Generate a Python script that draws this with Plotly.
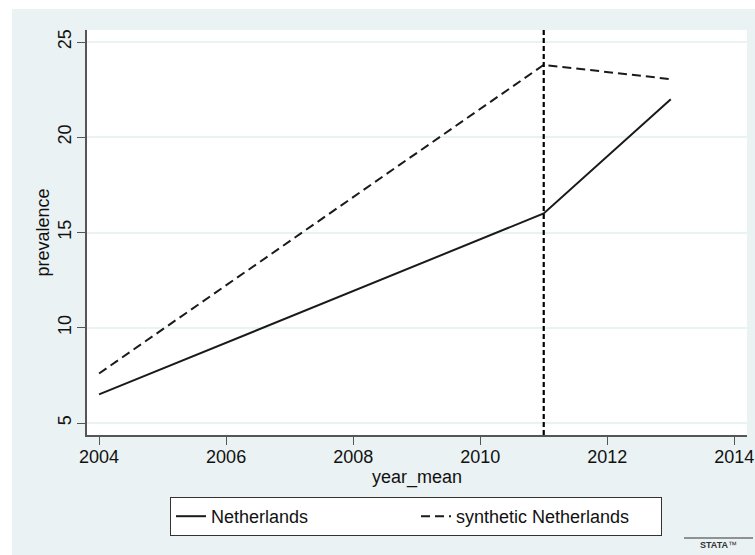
import plotly.graph_objects as go

years = [2004, 2011, 2013]
netherlands = [6.5, 16.0, 22.0]
synthetic = [7.6, 23.8, 23.05]
treat_year = 2011
x_ticks = [2004, 2006, 2008, 2010, 2012, 2014]
y_ticks = [5, 10, 15, 20, 25]

W, H = 755, 555
L, R, T, B = 87, 747, 30, 435
pw, ph = R - L, B - T


def px_x(p):
    return (p - L) / pw


def px_y(p):
    return (B - p) / ph


BG = "#EAF2F3"
FONT = "Liberation Sans, Arial, sans-serif"

fig = go.Figure()
fig.add_trace(go.Scatter(x=years, y=netherlands, mode="lines", name="Netherlands",
                         line=dict(color="#1a1a1a", width=2)))
fig.add_trace(go.Scatter(x=years, y=synthetic, mode="lines", name="synthetic Netherlands",
                         line=dict(color="#1a1a1a", width=2, dash="9px,5px")))

fig.add_shape(type="line", xref="x", yref="paper", x0=treat_year, x1=treat_year, y0=0, y1=1,
              line=dict(color="#000000", width=2.2, dash="5px,3px"))

# white outer margin (top / left)
fig.add_shape(type="rect", xref="paper", yref="paper", x0=px_x(-2), x1=px_x(12), y0=px_y(H + 2), y1=px_y(-2),
              fillcolor="white", line=dict(width=0), layer="above")
fig.add_shape(type="rect", xref="paper", yref="paper", x0=px_x(-2), x1=px_x(W + 2), y0=px_y(9), y1=px_y(-2),
              fillcolor="white", line=dict(width=0), layer="above")

# Stata logo
fig.add_shape(type="line", xref="paper", yref="paper", x0=px_x(684), x1=px_x(753), y0=px_y(538), y1=px_y(538),
              line=dict(color="#333", width=1.2))
fig.add_annotation(text="<b>STATA</b>™", xref="paper", yref="paper", x=px_x(718), y=px_y(545),
                   showarrow=False, font=dict(family=FONT, size=9, color="#333"),
                   xanchor="center", yanchor="middle")

fig.update_layout(
    width=W, height=H,
    margin=dict(l=L, r=W - R, t=T, b=H - B, autoexpand=False),
    paper_bgcolor=BG, plot_bgcolor="white",
    font=dict(family=FONT, size=18, color="#111"),
    showlegend=True,
    legend=dict(orientation="h", x=px_x(416), xanchor="center", y=px_y(497), yanchor="top",
                bgcolor="white", bordercolor="#333", borderwidth=1,
                font=dict(family=FONT, size=18, color="#111"),
                entrywidth=200, entrywidthmode="pixels"),
)

fig.update_xaxes(range=[2003.81, 2014.2], tickvals=x_ticks, ticks="outside", ticklen=8,
                 tickcolor="#555", showline=True, linecolor="#555", linewidth=1.5,
                 showgrid=False, zeroline=False, mirror=False, automargin=False,
                 ticklabelstandoff=-3,
                 title=dict(text="year_mean", standoff=0, font=dict(size=18)),
                 tickfont=dict(size=18))
fig.update_yaxes(range=[4.37, 25.63], tickvals=y_ticks, ticks="outside", ticklen=8,
                 tickcolor="#555", showline=True, linecolor="#555", linewidth=1.5,
                 showgrid=True, gridcolor=BG, gridwidth=1.5, zeroline=False, automargin=False,
                 tickangle=-90, tickfont=dict(size=18), ticklabelstandoff=-1,
                 title=dict(text="prevalence", standoff=1, font=dict(size=18)))

fig.write_html("out.html", config={"displayModeBar": False},
               post_script="document.body.style.margin='0';document.body.style.overflow='hidden';")
